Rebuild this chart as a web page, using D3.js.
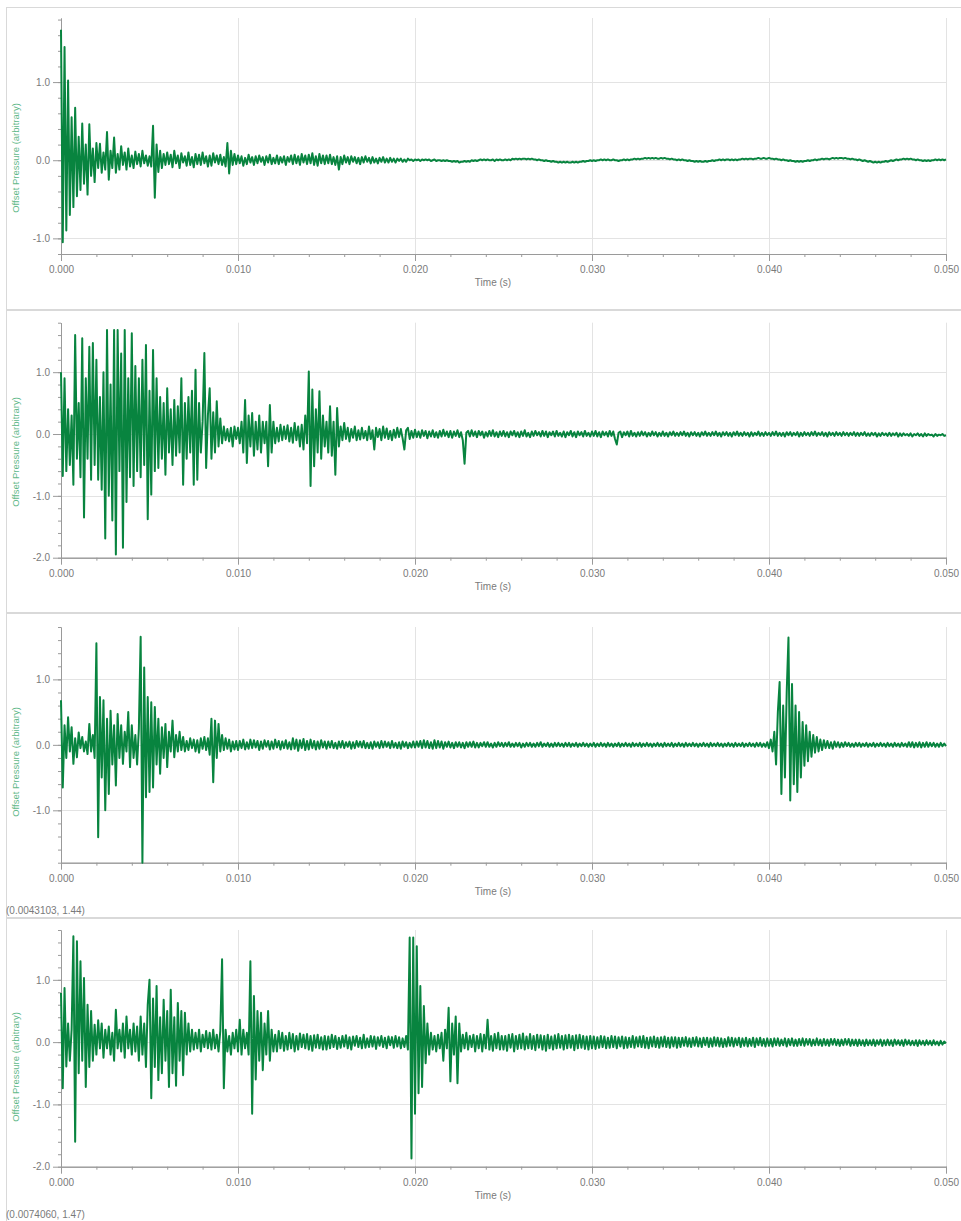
<!DOCTYPE html>
<html><head><meta charset="utf-8">
<script src="https://cdn.jsdelivr.net/npm/d3@7"></script>
<style>body{margin:0;background:#fff}svg{display:block}text{font-family:"Liberation Sans",Arial,sans-serif}</style>
</head><body>
<svg id="c" width="961" height="1221"></svg>
<script>
// ---------- DATA ----------
const sampleStep = 0.0001; // seconds between samples (501 samples, 0 .. 0.050 s)
const xTicks = [0, 0.01, 0.02, 0.03, 0.04, 0.05];
const xTickLabels = ["0.000", "0.010", "0.020", "0.030", "0.040", "0.050"];
const xLabel = "Time (s)";
const yLabel = "Offset Pressure (arbitrary)";
const yDomains = [[-1.2, 1.82], [-2, 1.8], [-1.8, 1.8], [-2, 1.8]];
const yMajorTicks = [[-1, 0, 1], [-2, -1, 0, 1], [-1, 0, 1], [-2, -1, 0, 1]];
const readouts = ["", "", "(0.0043103, 1.44)", "(0.0074060, 1.47)"];

const p1 = [
1.67,-1.05,1.45,-0.9,1.02,-0.7,0.55,-0.6,0.67,-0.46,
0.3,-0.38,0.47,-0.3,0.2,-0.44,0.46,-0.2,0.15,-0.28,
0.22,-0.1,0.21,-0.16,0.1,-0.12,0.36,-0.25,0.12,-0.1,
0.29,-0.16,0.08,-0.12,0.18,-0.06,0.1,-0.12,0.15,-0.08,
0.06,-0.1,0.11,-0.05,0.08,-0.08,0.12,-0.04,0.06,-0.07,
0.05,-0.08,0.44,-0.48,0.2,-0.15,0.12,-0.1,0.08,-0.06,
0.1,-0.05,0.07,-0.09,0.12,-0.04,0.06,-0.1,0.09,-0.03,
0.05,-0.07,0.1,-0.06,0.04,-0.09,0.08,-0.05,0.07,-0.06,
0.1,-0.04,0.05,-0.08,0.06,-0.07,0.09,-0.03,0.06,-0.05,
0.07,-0.06,0.04,-0.08,0.22,-0.17,0.12,-0.06,0.08,-0.05,
0.06,-0.04,0.05,-0.07,0.03,-0.05,0.07,-0.03,0.04,-0.06,
0.05,-0.04,0.06,-0.02,0.04,-0.06,0.05,-0.03,0.07,-0.05,
0.03,-0.04,0.06,-0.05,0.04,-0.03,0.05,-0.06,0.04,-0.02,
0.06,-0.05,0.07,-0.04,0.05,-0.06,0.08,-0.03,0.06,-0.05,
0.07,-0.04,0.09,-0.06,0.05,-0.07,0.08,-0.04,0.06,-0.05,
0.06,-0.04,0.07,-0.05,0.04,-0.06,0.05,-0.12,0.04,-0.05,
0.06,-0.03,0.04,-0.05,0.05,-0.02,0.04,-0.04,0.03,-0.05,
0.04,-0.03,0.05,-0.02,0.03,-0.04,0.04,-0.03,0.02,-0.04,
0.03,-0.02,0.04,-0.03,0.02,-0.03,0.03,-0.02,0.02,-0.03,
0.02,-0.01,0.02,-0.02,0.01,-0.02,0.02,0.0,0.01,-0.01,
0.01,0.0,0.01,-0.01,0.01,0.0,0.01,0.0,0.01,-0.01,
0.0,0.01,-0.01,0.0,0.0,-0.01,0.0,-0.01,0.0,-0.01,
-0.01,-0.02,-0.01,-0.02,-0.01,-0.03,-0.02,-0.02,-0.01,-0.02,
-0.01,-0.02,0.0,-0.01,0.0,-0.01,0.0,0.01,0.0,0.01,
0.0,0.01,0.0,0.0,0.01,-0.01,0.01,0.0,0.01,0.0,
0.0,0.01,0.0,0.01,0.0,0.02,0.01,0.02,0.01,0.02,
0.01,0.02,0.02,0.01,0.02,0.01,0.02,0.01,0.01,0.0,
0.01,0.0,0.0,-0.01,0.0,-0.01,-0.01,-0.02,-0.01,-0.02,
-0.02,-0.03,-0.02,-0.03,-0.02,-0.03,-0.02,-0.03,-0.03,-0.02,
-0.03,-0.02,-0.03,-0.02,-0.02,-0.01,-0.02,-0.01,-0.01,0.0,
-0.01,0.0,-0.01,0.0,0.0,0.01,0.0,0.01,0.0,0.01,
0.0,0.0,0.01,0.0,0.0,-0.01,0.0,0.0,0.01,0.0,
0.01,0.0,0.01,0.01,0.02,0.01,0.02,0.01,0.02,0.02,
0.03,0.02,0.03,0.02,0.03,0.02,0.03,0.02,0.02,0.03,
0.02,0.03,0.02,0.02,0.01,0.02,0.01,0.01,0.0,0.01,
0.0,0.01,0.0,0.0,-0.01,0.0,-0.01,-0.01,-0.02,-0.01,
-0.02,-0.01,-0.02,-0.02,-0.01,-0.02,-0.01,-0.01,0.0,-0.01,
0.0,0.0,0.01,0.0,0.01,0.0,0.01,0.01,0.0,0.01,
0.0,0.01,0.0,0.01,0.01,0.02,0.01,0.02,0.01,0.02,
0.02,0.01,0.02,0.02,0.03,0.02,0.02,0.03,0.02,0.02,
0.03,0.02,0.02,0.01,0.02,0.01,0.01,0.0,0.01,0.0,
0.0,-0.01,0.0,-0.01,-0.01,-0.02,-0.01,-0.02,-0.01,-0.02,
-0.01,-0.01,0.0,-0.01,0.0,0.0,0.01,0.0,0.01,0.01,
0.02,0.01,0.02,0.02,0.01,0.02,0.03,0.02,0.03,0.02,
0.03,0.03,0.02,0.03,0.02,0.02,0.01,0.02,0.01,0.01,
0.0,0.01,0.0,-0.01,0.0,-0.01,-0.02,-0.01,-0.02,-0.03,
-0.02,-0.03,-0.02,-0.03,-0.02,-0.02,-0.01,-0.02,-0.01,0.0,
-0.01,0.0,0.01,0.0,0.01,0.01,0.02,0.01,0.02,0.01,
0.02,0.01,0.01,0.0,0.01,0.0,0.0,-0.01,0.0,-0.01,
0.0,-0.01,0.0,0.0,0.01,0.0,0.01,0.0,0.01,0.0,
0.01];

const p2 = [
1.0,-0.68,0.9,-0.6,0.4,-0.5,0.3,-0.82,1.6,-0.4,
0.5,-0.7,1.55,-1.35,0.9,-0.4,1.41,-0.74,1.47,-0.5,
1.2,-0.74,0.6,-0.9,1.0,-1.69,1.68,-1.0,0.8,-1.4,
1.68,-1.95,1.68,-0.6,1.3,-1.84,1.68,-1.1,0.9,-0.7,
1.63,-0.84,1.1,-0.6,0.9,-0.7,1.2,-0.5,1.44,-1.38,
0.7,-0.98,1.36,-0.6,0.9,-0.55,0.6,-0.4,0.5,-0.66,
0.74,-0.3,0.4,-0.5,0.55,-0.35,0.45,-0.3,0.9,-0.82,
0.5,-0.4,0.6,-0.3,0.7,-0.82,1.04,-0.74,0.5,-0.3,
0.2,1.31,-0.55,0.3,0.74,-0.4,0.35,-0.3,0.53,-0.2,
0.25,-0.15,0.12,-0.1,0.08,-0.12,0.1,-0.2,0.12,-0.08,
0.1,-0.15,0.2,-0.3,0.55,-0.47,0.3,-0.2,0.34,-0.35,
0.2,-0.25,0.3,-0.3,0.2,-0.15,0.2,-0.52,0.47,-0.3,
0.2,-0.15,0.1,-0.12,0.15,-0.1,0.12,-0.08,0.14,-0.12,
0.1,-0.14,0.18,-0.1,0.12,-0.2,0.15,-0.25,0.3,-0.15,
1.01,-0.84,0.72,-0.52,0.4,-0.3,0.69,-0.4,0.3,-0.2,
0.2,-0.3,0.45,-0.35,0.2,-0.66,0.42,-0.2,0.12,-0.1,
0.18,-0.08,0.1,-0.12,0.08,-0.06,0.12,-0.1,0.06,-0.09,
0.1,-0.07,0.05,-0.1,0.12,-0.08,0.06,-0.25,0.1,-0.05,
0.08,-0.1,0.12,-0.06,0.09,-0.08,0.05,-0.1,0.07,-0.06,
0.1,-0.05,0.08,-0.07,-0.25,0.06,0.1,-0.08,0.05,-0.06,
0.07,-0.05,0.04,-0.06,0.06,-0.03,0.05,-0.07,0.04,-0.04,
0.06,-0.05,0.03,-0.06,0.05,-0.04,0.07,-0.03,0.04,-0.05,
0.05,-0.06,0.04,-0.03,0.06,-0.05,0.03,-0.1,-0.48,0.02,
0.05,-0.04,0.06,-0.03,0.04,-0.05,0.05,-0.02,0.04,-0.06,
0.03,-0.04,0.05,-0.03,0.06,-0.04,0.03,-0.05,0.04,-0.03,
0.05,-0.04,0.03,-0.05,0.04,-0.02,0.05,-0.04,0.03,-0.05,
0.04,-0.03,0.06,-0.04,0.02,-0.05,0.04,-0.03,0.05,-0.02,
0.03,-0.04,0.05,-0.03,0.04,-0.05,0.03,-0.02,0.04,-0.04,
0.05,-0.03,0.02,-0.04,0.04,-0.05,0.03,-0.02,0.05,-0.04,
0.03,-0.05,0.04,-0.02,0.03,-0.04,0.05,-0.03,0.02,-0.04,
0.04,-0.03,0.05,-0.04,0.03,-0.05,0.04,-0.02,0.03,-0.04,
0.05,-0.03,0.04,-0.08,-0.17,0.02,0.04,-0.05,0.03,-0.02,
0.04,-0.04,0.05,-0.03,0.02,-0.04,0.03,-0.03,0.04,-0.02,
0.03,-0.04,0.02,-0.03,0.04,-0.02,0.03,-0.04,0.02,-0.03,
0.04,-0.03,0.02,-0.04,0.03,-0.02,0.04,-0.03,0.02,-0.03,
0.03,-0.02,0.04,-0.03,0.02,-0.04,0.03,-0.02,0.03,-0.03,
0.02,-0.04,0.03,-0.02,0.04,-0.03,0.02,-0.03,0.03,-0.02,
0.04,-0.03,0.02,-0.04,0.03,-0.02,0.03,-0.03,0.02,-0.04,
0.03,-0.02,0.04,-0.03,0.02,-0.03,0.03,-0.02,0.02,-0.04,
0.03,-0.03,0.02,-0.02,0.04,-0.03,0.02,-0.03,0.03,-0.02,
0.02,-0.03,0.03,-0.02,0.04,-0.03,0.02,-0.03,0.02,-0.04,
0.03,-0.02,0.03,-0.03,0.02,-0.02,0.03,-0.04,0.02,-0.03,
0.03,-0.02,0.02,-0.03,0.03,-0.02,0.04,-0.03,0.02,-0.02,
0.03,-0.03,0.02,-0.04,0.03,-0.02,0.02,-0.03,0.03,-0.02,
0.02,-0.03,0.03,-0.02,0.02,-0.03,0.02,-0.02,0.03,-0.03,
0.02,-0.03,0.02,-0.02,0.03,-0.03,0.01,-0.03,0.02,-0.02,
0.02,-0.04,0.01,-0.03,0.02,-0.02,0.01,-0.03,0.02,-0.03,
0.01,-0.02,0.02,-0.04,0.01,-0.03,0.01,-0.02,0.0,-0.03,
0.01,-0.04,0.0,-0.02,0.01,-0.03,0.0,-0.04,0.01,-0.03,
0.0,-0.02,-0.01,-0.04,0.0,-0.03,-0.01,-0.02,0.0,-0.03,
-0.02];

const p3 = [
0.68,-0.65,0.3,-0.2,0.42,-0.1,0.27,-0.29,0.1,-0.19,
0.19,-0.05,0.12,-0.1,0.05,-0.14,0.32,-0.1,0.15,-0.2,
1.55,-1.41,0.73,-0.5,0.68,-1.0,0.4,-0.75,0.52,-0.3,
0.3,-0.62,0.47,-0.2,0.3,-0.29,0.2,-0.1,0.5,-0.34,
0.3,-0.2,0.15,-0.3,0.25,1.65,-1.8,1.18,-0.8,0.73,
-0.72,0.65,-0.65,0.58,-0.3,0.4,-0.44,0.27,-0.2,0.32,
-0.34,0.2,-0.1,0.37,-0.19,0.15,-0.1,0.2,-0.08,0.12,
-0.1,0.06,-0.08,0.1,-0.05,0.08,-0.1,0.07,-0.12,0.1,
-0.06,0.12,-0.08,0.1,-0.15,0.4,-0.57,0.37,-0.2,0.32,
-0.1,0.15,-0.08,0.1,-0.06,0.08,-0.1,0.05,-0.07,0.06,
-0.08,0.06,-0.05,0.08,-0.07,0.04,-0.06,0.08,-0.05,0.07,
-0.04,0.06,-0.08,0.05,-0.06,0.07,-0.03,0.06,-0.07,0.05,
-0.06,0.08,-0.04,0.06,-0.07,0.05,-0.05,0.07,-0.06,0.04,
-0.07,0.1,-0.06,0.08,-0.09,0.07,-0.05,0.09,-0.08,0.06,
-0.07,0.08,-0.05,0.06,-0.07,0.05,-0.06,0.07,-0.04,0.05,
-0.06,0.05,-0.04,0.06,-0.05,0.03,-0.06,0.05,-0.04,0.06,
-0.05,0.04,-0.03,0.05,-0.06,0.04,-0.05,0.06,-0.03,0.05,
-0.04,0.06,-0.05,0.03,-0.05,0.04,-0.06,0.05,-0.03,0.04,
-0.05,0.06,-0.04,0.05,-0.03,0.04,-0.05,0.06,-0.04,0.03,
-0.05,0.04,-0.06,0.05,-0.03,0.04,-0.05,0.03,-0.04,0.05,
-0.04,0.05,-0.03,0.06,-0.05,0.07,-0.04,0.06,-0.05,0.04,
-0.06,0.07,-0.05,0.06,-0.04,0.05,-0.06,0.04,-0.03,0.05,
-0.04,0.03,-0.05,0.04,-0.03,0.04,-0.04,0.03,-0.05,0.04,
-0.03,0.04,-0.03,0.05,-0.04,0.03,-0.04,0.03,-0.02,0.04,
-0.03,0.04,-0.03,0.02,-0.04,0.03,-0.03,0.04,-0.02,0.03,
-0.03,0.03,-0.02,0.04,-0.03,0.02,-0.03,0.03,-0.02,0.03,
-0.04,0.02,-0.03,0.03,-0.02,0.03,-0.03,0.02,-0.03,0.03,
-0.02,0.04,-0.03,0.02,-0.02,0.03,-0.03,0.02,-0.03,0.03,
-0.02,0.03,-0.02,0.02,-0.03,0.03,-0.02,0.03,-0.03,0.02,
-0.02,0.03,-0.03,0.02,-0.02,0.03,-0.02,0.02,-0.03,0.02,
-0.02,0.03,-0.03,0.02,-0.02,0.03,-0.02,0.02,-0.03,0.03,
-0.02,0.02,-0.03,0.02,-0.02,0.03,-0.03,0.02,-0.02,0.03,
-0.02,0.02,-0.03,0.03,-0.02,0.02,-0.02,0.03,-0.03,0.02,
-0.02,0.03,-0.02,0.02,-0.03,0.02,-0.02,0.03,-0.02,0.02,
-0.03,0.03,-0.02,0.02,-0.02,0.03,-0.03,0.02,-0.02,0.03,
-0.02,0.02,-0.03,0.03,-0.02,0.02,-0.02,0.03,-0.02,0.02,
-0.03,0.02,-0.02,0.03,-0.02,0.02,-0.03,0.03,-0.02,0.02,
-0.02,0.03,-0.02,0.02,-0.03,0.02,-0.02,0.03,-0.02,0.02,
-0.03,0.03,-0.02,0.02,-0.02,0.03,-0.03,0.02,-0.02,0.03,
-0.02,0.02,-0.03,0.03,-0.02,0.03,-0.03,0.02,-0.03,0.04,
-0.05,0.08,-0.1,0.2,-0.3,0.5,0.96,-0.75,0.6,-0.5,
0.8,1.64,-0.85,0.93,-0.6,0.6,-0.72,0.5,-0.5,0.35,
-0.32,0.3,-0.25,0.2,-0.18,0.15,-0.12,0.12,-0.1,0.08,
-0.08,0.07,-0.05,0.06,-0.05,0.04,-0.06,0.05,-0.03,0.04,
-0.04,0.03,-0.03,0.04,-0.02,0.03,-0.03,0.02,-0.03,0.03,
-0.02,0.03,-0.03,0.02,-0.02,0.03,-0.03,0.02,-0.02,0.03,
-0.03,0.02,-0.02,0.03,-0.02,0.02,-0.03,0.03,-0.02,0.02,
-0.03,0.03,-0.02,0.02,-0.03,0.03,-0.02,0.02,-0.03,0.04,
-0.03,0.04,-0.04,0.03,-0.03,0.04,-0.04,0.03,-0.03,0.04,
-0.03,0.03,-0.02,0.03,-0.03,0.02,-0.03,0.03,-0.02,0.02,
-0.02];

const p4 = [
0.79,-0.74,0.87,-0.39,0.3,-0.3,0.2,1.7,-1.6,1.62,
-0.5,1.3,-0.3,1.03,-0.72,0.6,-0.4,0.5,-0.3,0.28,
-0.2,0.35,-0.1,0.3,-0.25,0.2,-0.1,0.25,-0.2,0.15,
-0.3,0.52,-0.1,0.2,-0.15,0.3,-0.25,0.41,-0.1,0.2,
-0.2,0.3,-0.15,0.25,-0.3,0.41,-0.2,0.3,-0.4,0.6,
1.0,-0.9,0.7,-0.4,0.9,-0.61,0.4,-0.5,0.68,-0.3,
0.5,-0.72,0.84,-0.5,0.4,-0.7,0.63,-0.3,0.5,-0.53,
0.47,-0.2,0.3,-0.15,0.2,-0.12,0.15,-0.1,0.2,-0.15,
0.12,-0.08,0.18,-0.1,0.15,-0.12,0.2,-0.1,0.12,-0.15,
0.18,1.33,-0.74,0.2,-0.15,0.1,-0.2,0.15,-0.1,0.2,
-0.15,0.36,-0.2,0.2,-0.1,0.15,-0.2,1.3,-1.15,0.74,
-0.6,0.5,-0.3,0.47,-0.45,0.3,-0.2,0.5,-0.3,0.2,
-0.15,0.12,-0.15,0.18,-0.1,0.15,-0.14,0.1,-0.12,0.15,
-0.1,0.13,-0.15,0.1,-0.12,0.14,-0.08,0.12,-0.1,0.13,
-0.12,0.1,-0.14,0.11,-0.09,0.12,-0.1,0.08,-0.12,0.1,
-0.12,0.09,-0.1,0.12,-0.08,0.1,-0.11,0.07,-0.09,0.1,
-0.07,0.11,-0.1,0.08,-0.12,0.09,-0.06,0.1,-0.08,0.07,
-0.1,0.12,-0.09,0.06,-0.08,0.1,-0.07,0.09,-0.11,0.08,
-0.06,0.1,-0.08,0.07,-0.1,0.09,-0.05,0.08,-0.09,0.1,
-0.07,0.08,-0.1,0.06,-0.08,0.1,-0.12,1.68,-1.87,1.68,
-1.15,1.54,-0.82,0.9,-0.72,0.58,-0.34,0.3,-0.2,0.15,
-0.12,0.1,-0.15,0.12,-0.1,0.15,-0.3,0.2,-0.1,0.55,
-0.63,0.3,-0.2,0.41,-0.66,0.3,-0.15,0.12,-0.1,0.15,
-0.12,0.1,-0.08,0.12,-0.15,0.1,-0.1,0.13,-0.15,0.12,
-0.1,0.36,-0.12,0.1,-0.14,0.13,-0.1,0.15,-0.12,0.1,
-0.12,0.1,-0.14,0.12,-0.09,0.13,-0.15,0.1,-0.11,0.12,
-0.1,0.14,-0.12,0.09,-0.1,0.13,-0.11,0.1,-0.13,0.12,
-0.09,0.11,-0.12,0.1,-0.14,0.12,-0.1,0.09,-0.12,0.11,
-0.1,0.13,-0.09,0.1,-0.12,0.11,-0.1,0.12,-0.09,0.1,
-0.13,0.11,-0.1,0.12,-0.09,0.1,-0.11,0.09,-0.12,0.1,
-0.1,0.09,-0.11,0.08,-0.09,0.1,-0.08,0.09,-0.1,0.07,
-0.09,0.1,-0.08,0.09,-0.1,0.08,-0.07,0.09,-0.1,0.08,
-0.09,0.07,-0.08,0.1,-0.09,0.08,-0.07,0.09,-0.08,0.1,
-0.09,0.07,-0.1,0.08,-0.07,0.09,-0.08,0.07,-0.09,0.08,
-0.07,0.09,-0.08,0.07,-0.09,0.08,-0.07,0.08,-0.09,0.07,
-0.08,0.07,-0.06,0.08,-0.07,0.06,-0.08,0.07,-0.06,0.08,
-0.07,0.06,-0.08,0.07,-0.05,0.07,-0.08,0.06,-0.07,0.08,
-0.06,0.07,-0.07,0.06,-0.08,0.05,-0.07,0.08,-0.06,0.07,
-0.07,0.06,-0.05,0.07,-0.08,0.06,-0.06,0.07,-0.07,0.05,
-0.06,0.07,-0.08,0.06,-0.05,0.07,-0.06,0.05,-0.07,0.06,
-0.06,0.05,-0.07,0.06,-0.05,0.06,-0.06,0.04,-0.05,0.06,
-0.07,0.05,-0.05,0.06,-0.06,0.04,-0.06,0.05,-0.05,0.06,
-0.06,0.05,-0.04,0.05,-0.06,0.04,-0.05,0.06,-0.05,0.04,
-0.06,0.05,-0.05,0.04,-0.06,0.05,-0.04,0.05,-0.05,0.04,
-0.06,0.04,-0.05,0.05,-0.04,0.05,-0.06,0.04,-0.05,0.04,
-0.06,0.04,-0.05,0.03,-0.06,0.04,-0.05,0.03,-0.05,0.04,
-0.06,0.03,-0.04,0.04,-0.06,0.03,-0.05,0.04,-0.05,0.03,
-0.06,0.04,-0.04,0.03,-0.05,0.03,-0.06,0.04,-0.04,0.03,
-0.05,0.02,-0.05,0.03,-0.06,0.03,-0.04,0.02,-0.05,0.03,
-0.04,0.02,-0.05,0.03,-0.04,0.01,-0.05,0.02,-0.04,0.01,
-0.02];

const series = [p1, p2, p3, p4];

// ---------- LAYOUT ----------
const layout = [
  {frameTop: 7,   frameBottom: 309,  top: 18,    bottom: 254,    labelCy: 158},
  {frameTop: 310, frameBottom: 612,  top: 322.7, bottom: 557.7,  labelCy: 452},
  {frameTop: 613, frameBottom: 917,  top: 627,   bottom: 862.7,  labelCy: 762},
  {frameTop: 918, frameBottom: 1226, top: 930,   bottom: 1166.7, labelCy: 1067}
];
const left = 61, right = 946;
const lineColor = "#08843f";
const svg = d3.select("#c");

series.forEach((vals, k) => {
  const L = layout[k];
  const g = svg.append("g");
  g.append("rect").attr("x", 6.5).attr("y", L.frameTop + 0.5)
    .attr("width", 980).attr("height", L.frameBottom - L.frameTop)
    .attr("fill", "none").attr("stroke", "#d9d9d9");

  const x = d3.scaleLinear().domain([0, 0.05]).range([left, right]);
  const y = d3.scaleLinear().domain(yDomains[k]).range([L.bottom, L.top]);

  // grid
  g.append("g").selectAll("line").data(xTicks.slice(1)).join("line")
    .attr("x1", d => Math.round(x(d)) + 0.5).attr("x2", d => Math.round(x(d)) + 0.5)
    .attr("y1", L.top).attr("y2", L.bottom)
    .attr("stroke", "#e3e3e3");
  g.append("g").selectAll("line").data(yMajorTicks[k]).join("line")
    .attr("x1", left).attr("x2", right)
    .attr("y1", d => Math.round(y(d)) + 0.5).attr("y2", d => Math.round(y(d)) + 0.5)
    .attr("stroke", "#e3e3e3");

  // minor ticks
  const d0 = yDomains[k][0], d1 = yDomains[k][1];
  const yMinor = d3.range(Math.ceil(d0 / 0.2 - 1e-6), Math.floor(d1 / 0.2 + 1e-6) + 1).map(v => +(v * 0.2).toFixed(2));
  const xMinor = d3.range(0, 26).map(v => +(v * 0.002).toFixed(3));

  const styleAxis = sel => {
    sel.selectAll("path,line").attr("stroke", "#9a9a9a");
    sel.selectAll("text").attr("fill", "#7a7a7a").attr("font-size", 10)
       .attr("font-family", '"Liberation Sans", Arial, sans-serif');
  };

  g.append("g").attr("transform", `translate(${left},0)`)
    .call(d3.axisLeft(y).tickValues(yMinor).tickSize(3).tickSizeOuter(0).tickFormat(""))
    .call(styleAxis);
  g.append("g").attr("transform", `translate(${left},0)`)
    .call(d3.axisLeft(y).tickValues(yMajorTicks[k]).tickSize(8).tickPadding(3).tickSizeOuter(0)
      .tickFormat(v => v.toFixed(1)))
    .call(styleAxis);

  g.append("g").attr("transform", `translate(0,${L.bottom})`)
    .call(d3.axisBottom(x).tickValues(xMinor).tickSize(3).tickSizeOuter(0).tickFormat(""))
    .call(styleAxis);
  g.append("g").attr("transform", `translate(0,${L.bottom})`)
    .call(d3.axisBottom(x).tickValues(xTicks).tickSize(7).tickPadding(5).tickSizeOuter(0)
      .tickFormat((d, i) => xTickLabels[i]))
    .call(styleAxis);

  // labels
  g.append("text").attr("x", 493).attr("y", L.bottom + 32)
    .attr("text-anchor", "middle").attr("font-size", 10).attr("fill", "#7a7a7a").text(xLabel);
  g.append("text").attr("transform", `translate(19,${L.labelCy}) rotate(-90)`)
    .attr("text-anchor", "middle").attr("font-size", 9.5).attr("fill", "#5fb889").text(yLabel);
  if (readouts[k]) {
    g.append("text").attr("x", 6).attr("y", L.bottom + 51)
      .attr("font-size", 10).attr("fill", "#7a7a7a").text(readouts[k]);
  }

  // signal
  const line = d3.line().x((d, i) => x(i * sampleStep)).y(d => y(d));
  g.append("path").datum(vals).attr("d", line)
    .attr("fill", "none").attr("stroke", lineColor).attr("stroke-width", 2)
    .attr("stroke-linejoin", "round");
});
</script>
</body></html>
